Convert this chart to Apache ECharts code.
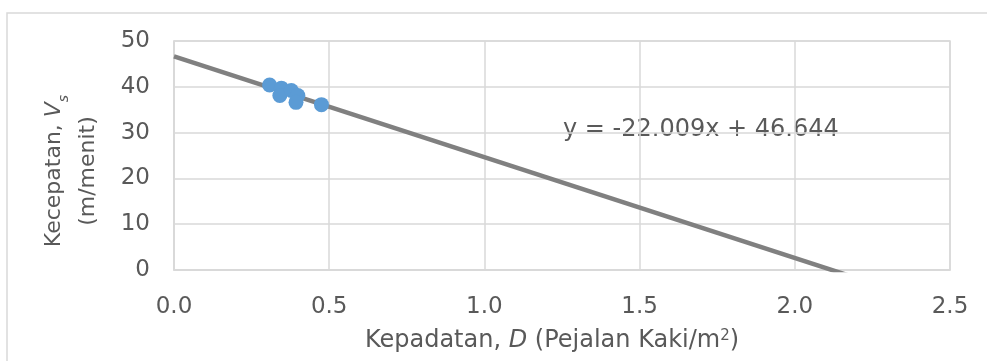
<!DOCTYPE html>
<html>
<head>
<meta charset="utf-8">
<script src="https://cdn.jsdelivr.net/npm/echarts@6/dist/echarts.min.js"></script>
<style>
html,body{margin:0;padding:0;background:#fff;}
#chart{width:987px;height:361px;}
</style>
</head>
<body>
<div id="chart"></div>
<script>
// Observed points: density D (pedestrians/m2) and speed Vs (m/min)
const densityD = [0.308, 0.346, 0.341, 0.378, 0.399, 0.393, 0.475];
const speedVs  = [40.4, 39.7, 38.1, 39.2, 38.1, 36.6, 36.1];
// Trendline as printed on the chart: y = -22.009x + 46.644
const trendSlope = -22.009;
const trendIntercept = 46.644;
const trendXRange = [0, 2.5];
const xTicks = [0, 0.5, 1.0, 1.5, 2.0, 2.5];
const yTicks = [0, 10, 20, 30, 40, 50];

const points = densityD.map((d, i) => [d, speedVs[i]]);
const trend = trendXRange.map(x => [x, trendSlope * x + trendIntercept]);

const FONT = 'DejaVu Sans';
const TXT = '#595959';
const GRIDC = '#d9d9d9';

const chart = echarts.init(document.getElementById('chart'), null, {renderer: 'canvas'});
chart.setOption({
  animation: false,
  backgroundColor: '#ffffff',
  grid: {left: 174, right: 37, top: 41, bottom: 91, show: true, borderColor: GRIDC, borderWidth: 1.5, backgroundColor: 'transparent'},
  xAxis: {
    type: 'value', min: xTicks[0], max: xTicks[xTicks.length - 1], interval: 0.5,
    axisLine: {show: true, lineStyle: {color: GRIDC, width: 1.5}},
    axisTick: {show: false},
    splitLine: {show: true, lineStyle: {color: GRIDC, width: 1.5}},
    axisLabel: {color: TXT, fontFamily: FONT, fontSize: 23, margin: 26, formatter: v => v.toFixed(1)}
  },
  yAxis: {
    type: 'value', min: yTicks[0], max: yTicks[yTicks.length - 1], interval: 10,
    axisLine: {show: true, lineStyle: {color: GRIDC, width: 1.5}},
    axisTick: {show: false},
    splitLine: {show: true, lineStyle: {color: GRIDC, width: 1.5}},
    axisLabel: {color: TXT, fontFamily: FONT, fontSize: 23, margin: 24}
  },
  series: [
    {
      type: 'line', data: trend, showSymbol: false, symbol: 'none', clip: true,
      lineStyle: {color: '#808080', width: 4.5}, z: 2, silent: true
    },
    {
      type: 'scatter', data: points, symbol: 'circle', symbolSize: 15,
      itemStyle: {color: '#5b9bd5', opacity: 1}, z: 3
    }
  ],
  graphic: [
    {type: 'rect', shape: {x: 7, y: 13, width: 1000, height: 400}, style: {fill: 'none', stroke: GRIDC, lineWidth: 1.5}, z: -10, silent: true},
    {
      type: 'text', x: 71, y: 171, rotation: Math.PI / 2,
      style: {
        text: 'Kecepatan, {i|V}{sub|s}\n(m/menit)',
        fill: TXT, font: '22px "DejaVu Sans"', align: 'center', verticalAlign: 'middle', lineHeight: 34,
        rich: {
          i: {fontStyle: 'italic', fontSize: 22, fontFamily: FONT, fill: TXT, lineHeight: 34},
          sub: {fontStyle: 'italic', fontSize: 14, fontFamily: FONT, fill: TXT, verticalAlign: 'bottom', padding: [10, 0, 0, 0], lineHeight: 34}
        }
      }
    },
    {
      type: 'text', x: 552, y: 341,
      style: {
        text: 'Kepadatan, {i|D} (Pejalan Kaki/m{sup|2})',
        fill: TXT, font: '24px "DejaVu Sans"', align: 'center', verticalAlign: 'middle',
        rich: {
          i: {fontStyle: 'italic', fontSize: 24, fontFamily: FONT, fill: TXT},
          sup: {fontSize: 15, fontFamily: FONT, fill: TXT, verticalAlign: 'top', padding: [0, 0, 10, 0]}
        }
      }
    },
    {
      type: 'text', x: 563, y: 130,
      style: {text: 'y = -22.009x + 46.644', fill: TXT, font: '24px "DejaVu Sans"', align: 'left', verticalAlign: 'middle'}
    }
  ]
});
</script>
</body>
</html>
